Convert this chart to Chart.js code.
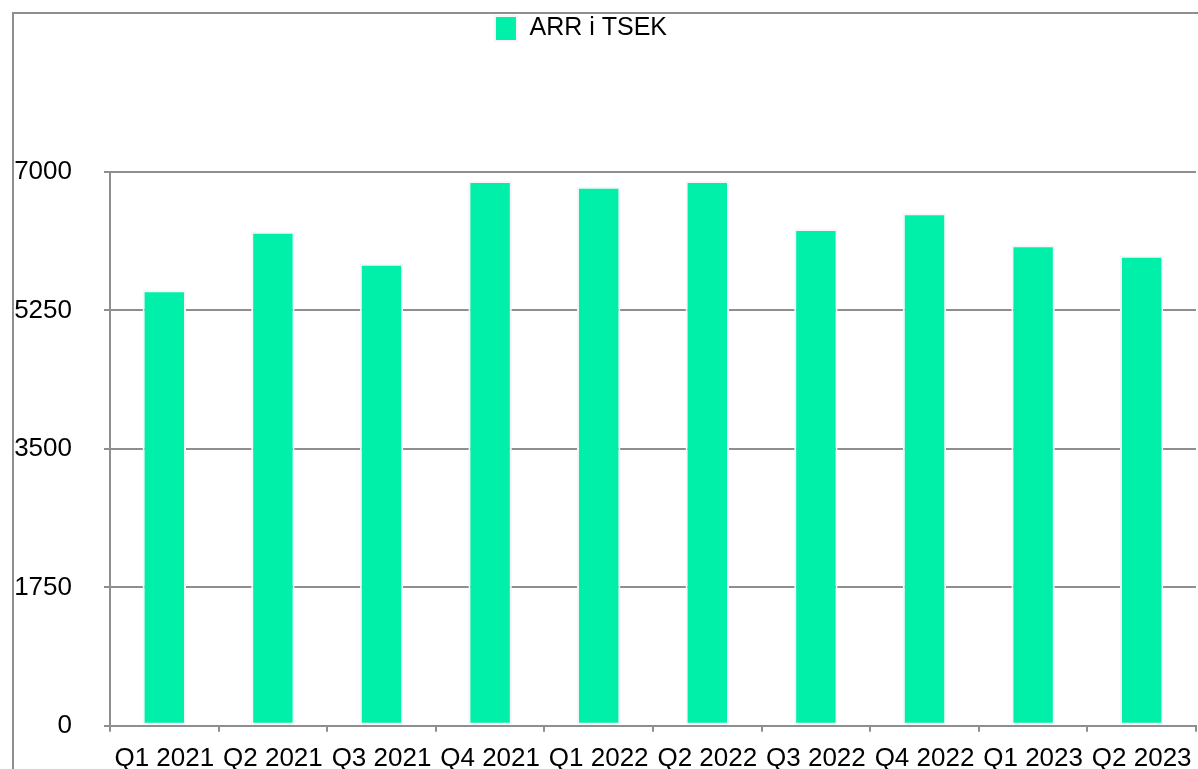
<!DOCTYPE html>
<html>
<head>
<meta charset="utf-8">
<title>ARR i TSEK</title>
<script src="https://cdn.jsdelivr.net/npm/chart.js@4.4.0/dist/chart.umd.min.js"></script>
<style>
  html, body { margin: 0; padding: 0; background: #fff; overflow: hidden; }
  #frame {
    position: absolute; left: 12px; top: 12px;
    border-left: 2px solid #8e8e8e; border-top: 2px solid #8e8e8e;
  }
  canvas { display: block; }
</style>
</head>
<body>
<div id="frame"><canvas id="myChart" width="1184" height="771"></canvas></div>
<script>
var quarters = ['Q1 2021', 'Q2 2021', 'Q3 2021', 'Q4 2021', 'Q1 2022',
                'Q2 2022', 'Q3 2022', 'Q4 2022', 'Q1 2023', 'Q2 2023'];
var arr = [5505, 6245, 5840, 6885, 6815, 6885, 6280, 6480, 6075, 5940];
var yTicks = [0, 1750, 3500, 5250, 7000];

var gray = '#8e8e8e';
var font = 'Liberation Sans, Arial, Helvetica, sans-serif';

// legend takes the whole strip above the plot, and sits a bit left of centre
var legendSpace = {
    id: 'legendSpace',
    beforeInit: function(chart) {
        var fit = chart.legend.fit;
        chart.legend.fit = function() {
            fit.call(this);
            this.height = 158;
        };
    },
    afterLayout: function(chart) {
        chart.legend.right -= 48;
    }
};

var ctx = document.getElementById('myChart');
var myChart = new Chart(ctx, {
    type: 'bar',
    data: {
        labels: quarters,
        datasets: [{
            label: 'ARR i TSEK',
            data: arr,
            backgroundColor: '#00F0AA',
            borderColor: '#f4f7f5',
            borderWidth: 2,
            borderSkipped: false,
            categoryPercentage: 1,
            barPercentage: 0.4
        }]
    },
    options: {
        responsive: false,
        animation: false,
        devicePixelRatio: 1,
        layout: { padding: { left: 0, right: 2, top: 0, bottom: 0 } },
        plugins: {
            tooltip: { enabled: false },
            legend: {
                position: 'top',
                labels: {
                    boxWidth: 22,
                    boxHeight: 25,
                    padding: 2,
                    color: '#000',
                    font: { family: font, size: 25 }
                }
            }
        },
        scales: {
            x: {
                afterFit: function(scale) {
                    scale.paddingLeft = 0;
                    scale.paddingRight = 0;
                },
                grid: {
                    offset: true,
                    drawOnChartArea: false,
                    tickLength: 6,
                    lineWidth: 2,
                    color: gray
                },
                border: { color: gray, width: 2, z: 1 },
                ticks: {
                    autoSkip: false,
                    maxRotation: 0,
                    padding: 11,
                    color: '#000',
                    font: { family: font, size: 26 }
                }
            },
            y: {
                min: 0,
                max: 7000,
                afterBuildTicks: function(scale) {
                    scale.ticks = yTicks.map(function(v) { return { value: v }; });
                },
                afterFit: function(scale) {
                    scale.width = 96;
                },
                grid: {
                    tickLength: 6,
                    lineWidth: 2,
                    color: gray
                },
                border: { color: gray, width: 2 },
                ticks: {
                    padding: 32,
                    color: '#000',
                    font: { family: font, size: 26 },
                    callback: function(v) { return String(v); }
                }
            }
        }
    },
    plugins: [legendSpace]
});
</script>
</body>
</html>
